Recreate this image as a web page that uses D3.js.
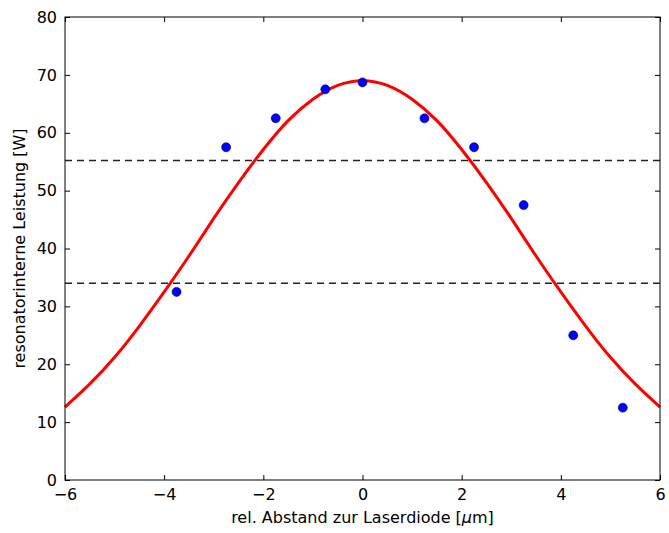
<!DOCTYPE html>
<html>
<head>
<meta charset="utf-8">
<script src="https://cdn.jsdelivr.net/npm/d3@7"></script>
<style>
  html, body { margin: 0; padding: 0; background: #fff; }
  svg { display: block; }
  text { font-family: "DejaVu Sans", sans-serif; fill: #000; }
</style>
</head>
<body>
<svg id="chart" width="669" height="533"></svg>
<script>
// Measured laser power at each offset from the laser diode
const measX = [-3.75, -2.75, -1.75, -0.75, 0, 1.25, 2.25, 3.25, 4.25, 5.25];
const measY = [32.5, 57.5, 62.5, 67.5, 68.7, 62.5, 57.5, 47.5, 25.0, 12.5];

// Fitted profile, sampled along the offset axis
const fitX = [-6, -5.5, -5, -4.5, -4, -3.5, -3, -2.5, -2, -1.5, -1, -0.5, 0,
              0.5, 1, 1.5, 2, 2.5, 3, 3.5, 4, 4.5, 5, 5.5, 6];
const fitY = [12.6, 16.6, 21.2, 26.6, 32.5, 38.7, 45.2, 51.4, 57.1, 62.1, 65.8, 68.2, 69.0,
              68.2, 65.8, 62.1, 57.1, 51.4, 45.2, 38.7, 32.5, 26.6, 21.2, 16.6, 12.6];

// Horizontal reference levels
const levels = [55.2, 34.0];

// Axis ticks
const xTicks = [-6, -4, -2, 0, 2, 4, 6];
const yTicks = [0, 10, 20, 30, 40, 50, 60, 70, 80];

const xLabel = "rel. Abstand zur Laserdiode [";
const yLabel = "resonatorinterne Leistung [W]";

const svg = d3.select("#chart");
const plotL = 65, plotR = 660, plotT = 17, plotB = 480;

const x = d3.scaleLinear().domain([-6, 6]).range([plotL, plotR]);
const y = d3.scaleLinear().domain([0, 80]).range([plotB, plotT]);

const fmt = d3.format("d");

// Reference levels
svg.append("g").selectAll("line").data(levels).join("line")
  .attr("x1", plotL).attr("x2", plotR)
  .attr("y1", d => y(d)).attr("y2", d => y(d))
  .attr("stroke", "#222").attr("stroke-width", 1.4)
  .attr("stroke-dasharray", "7,5");

// Fit curve
const fitData = fitX.map((v, i) => [v, fitY[i]]);
svg.append("path")
  .datum(fitData)
  .attr("fill", "none")
  .attr("stroke", "#ff0000")
  .attr("stroke-width", 3)
  .attr("d", d3.line().x(d => x(d[0])).y(d => y(d[1])).curve(d3.curveNatural));

// Measurements
svg.append("g").selectAll("circle").data(measX.map((v, i) => [v, measY[i]])).join("circle")
  .attr("cx", d => x(d[0])).attr("cy", d => y(d[1]))
  .attr("r", 4.5)
  .attr("fill", "#0000ff")
  .attr("stroke", "#00005a").attr("stroke-width", 0.6);

// Axes with inward ticks on all four sides
const tl = 5;
svg.append("g").attr("transform", `translate(0,${plotB})`)
  .call(d3.axisBottom(x).tickValues(xTicks).tickSizeInner(-tl).tickSizeOuter(0).tickPadding(9).tickFormat(fmt));
svg.append("g").attr("transform", `translate(0,${plotT})`)
  .call(d3.axisTop(x).tickValues(xTicks).tickSizeInner(-tl).tickSizeOuter(0).tickFormat(""));
svg.append("g").attr("transform", `translate(${plotL},0)`)
  .call(d3.axisLeft(y).tickValues(yTicks).tickSizeInner(-tl).tickSizeOuter(0).tickPadding(8).tickFormat(fmt));
svg.append("g").attr("transform", `translate(${plotR},0)`)
  .call(d3.axisRight(y).tickValues(yTicks).tickSizeInner(-tl).tickSizeOuter(0).tickFormat(""));

svg.selectAll(".domain").remove();
svg.selectAll(".tick line").attr("stroke", "#000").attr("stroke-width", 1);
svg.selectAll(".tick text").attr("font-size", 16).attr("font-family", "DejaVu Sans, sans-serif");

// Frame
svg.append("rect")
  .attr("x", plotL).attr("y", plotT)
  .attr("width", plotR - plotL).attr("height", plotB - plotT)
  .attr("fill", "none").attr("stroke", "#000").attr("stroke-width", 1);

// Axis titles
const xt = svg.append("text")
  .attr("x", (plotL + plotR) / 2).attr("y", 523)
  .attr("text-anchor", "middle").attr("font-size", 16);
xt.append("tspan").text(xLabel);
xt.append("tspan").attr("font-style", "italic").text("μ");
xt.append("tspan").text("m]");

svg.append("text")
  .attr("transform", `translate(25,${(plotT + plotB) / 2}) rotate(-90)`)
  .attr("text-anchor", "middle").attr("font-size", 16)
  .text(yLabel);
</script>
</body>
</html>
